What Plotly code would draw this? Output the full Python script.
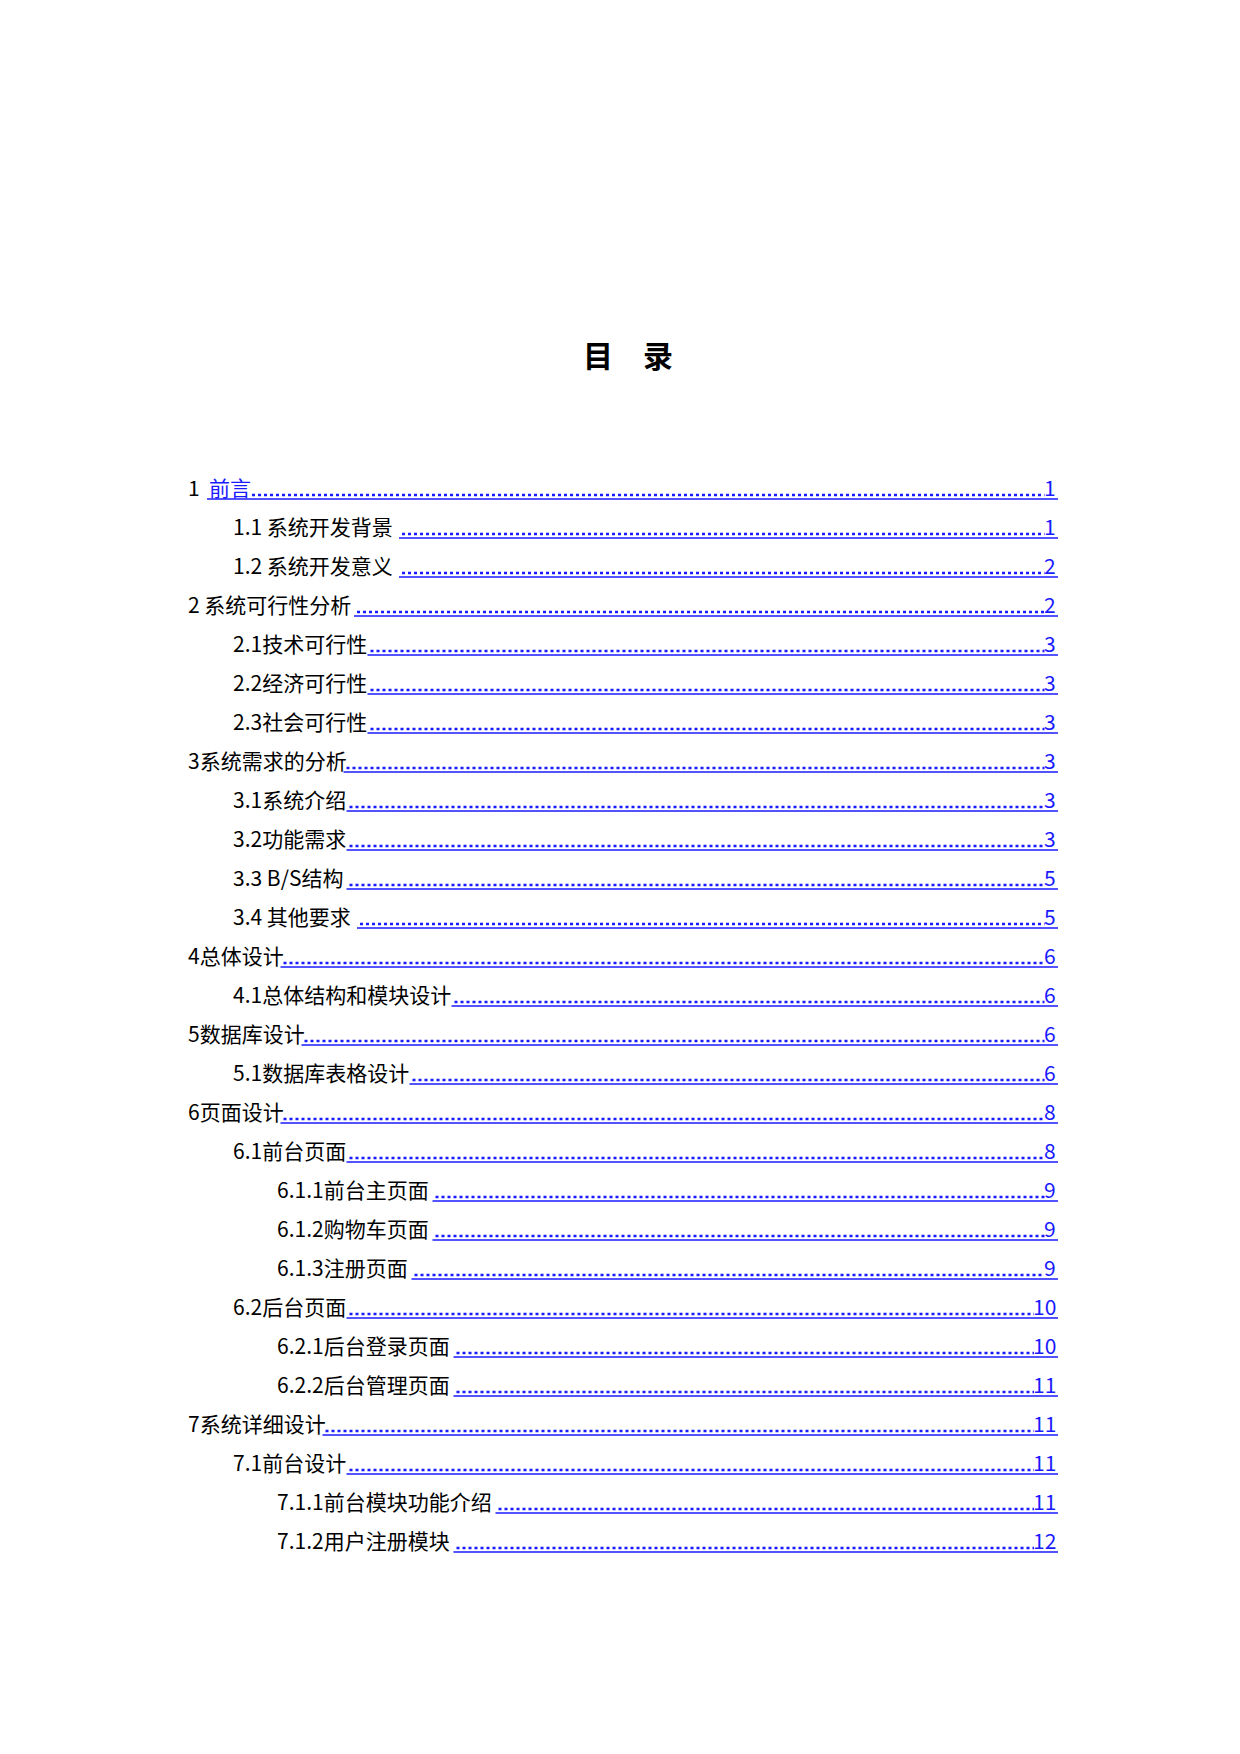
import plotly.graph_objects as go

# table of contents entries
titles = [
    "1 前言", "1.1 系统开发背景", "1.2 系统开发意义", "2 系统可行性分析",
    "2.1技术可行性", "2.2经济可行性", "2.3社会可行性", "3系统需求的分析",
    "3.1系统介绍", "3.2功能需求", "3.3 B/S结构", "3.4 其他要求",
    "4总体设计", "4.1总体结构和模块设计", "5数据库设计", "5.1数据库表格设计",
    "6页面设计", "6.1前台页面", "6.1.1前台主页面", "6.1.2购物车页面",
    "6.1.3注册页面", "6.2后台页面", "6.2.1后台登录页面", "6.2.2后台管理页面",
    "7系统详细设计", "7.1前台设计", "7.1.1前台模块功能介绍", "7.1.2用户注册模块",
]
levels = [1, 2, 2, 1, 2, 2, 2, 1, 2, 2, 2, 2, 1, 2, 1, 2,
          1, 2, 3, 3, 3, 2, 3, 3, 1, 2, 3, 3]
pages = [1, 1, 2, 2, 3, 3, 3, 3, 3, 3, 5, 5, 6, 6, 6, 6,
         8, 8, 9, 9, 9, 10, 10, 11, 11, 11, 11, 12]

W, H = 1240, 1754
FS = 21
BLUE = "#1a1aff"
FONT = "Noto Sans CJK SC"
indent = {1: 178, 2: 223, 3: 267}
right = 1050
y0, step = 479, 39


def text_width(s):
    return sum(FS if ord(c) > 255 else FS * 0.5 for c in s)


fig = go.Figure()
ann = []
shapes = []
ann.append(dict(x=W / 2, y=346, text="<b>目　录</b>", showarrow=False,
                font=dict(family=FONT, size=30, color="black"),
                xanchor="center", yanchor="middle"))

for i, (t, lv, p) in enumerate(zip(titles, levels, pages)):
    y = y0 + i * step
    x = indent[lv]
    if i == 0:
        ann.append(dict(x=x, y=y, text="1 ", showarrow=False, xanchor="left", yanchor="middle",
                        font=dict(family=FONT, size=FS, color="black")))
        xs = x + text_width("1 ")
        ann.append(dict(x=xs, y=y, text="前言", showarrow=False, xanchor="left", yanchor="middle",
                        font=dict(family=FONT, size=FS, color=BLUE)))
        shapes.append(dict(type="line", x0=xs, x1=xs + text_width("前言"), y0=y + 12, y1=y + 12,
                           line=dict(color=BLUE, width=1.5)))
        end = xs + text_width("前言")
    else:
        ann.append(dict(x=x, y=y, text=t, showarrow=False, xanchor="left", yanchor="middle",
                        font=dict(family=FONT, size=FS, color="black")))
        end = x + text_width(t)
    num = str(p)
    ann.append(dict(x=right, y=y, text=num, showarrow=False, xanchor="right", yanchor="middle",
                    font=dict(family=FONT, size=FS, color=BLUE)))
    nstart = right - len(num) * FS * 0.5
    shapes.append(dict(type="line", x0=end + 3, x1=nstart - 3, y0=y + 8, y1=y + 8,
                       line=dict(color=BLUE, width=2.5, dash="dot")))
    shapes.append(dict(type="line", x0=end, x1=right, y0=y + 12, y1=y + 12,
                       line=dict(color=BLUE, width=1.5)))

fig.update_layout(
    width=W, height=H, margin=dict(l=0, r=0, t=0, b=0),
    paper_bgcolor="white", plot_bgcolor="white",
    xaxis=dict(range=[0, W], visible=False, fixedrange=True),
    yaxis=dict(range=[H, 0], visible=False, fixedrange=True),
    annotations=ann, shapes=shapes, showlegend=False,
)
fig.write_html("out.html", config={"displayModeBar": False})
